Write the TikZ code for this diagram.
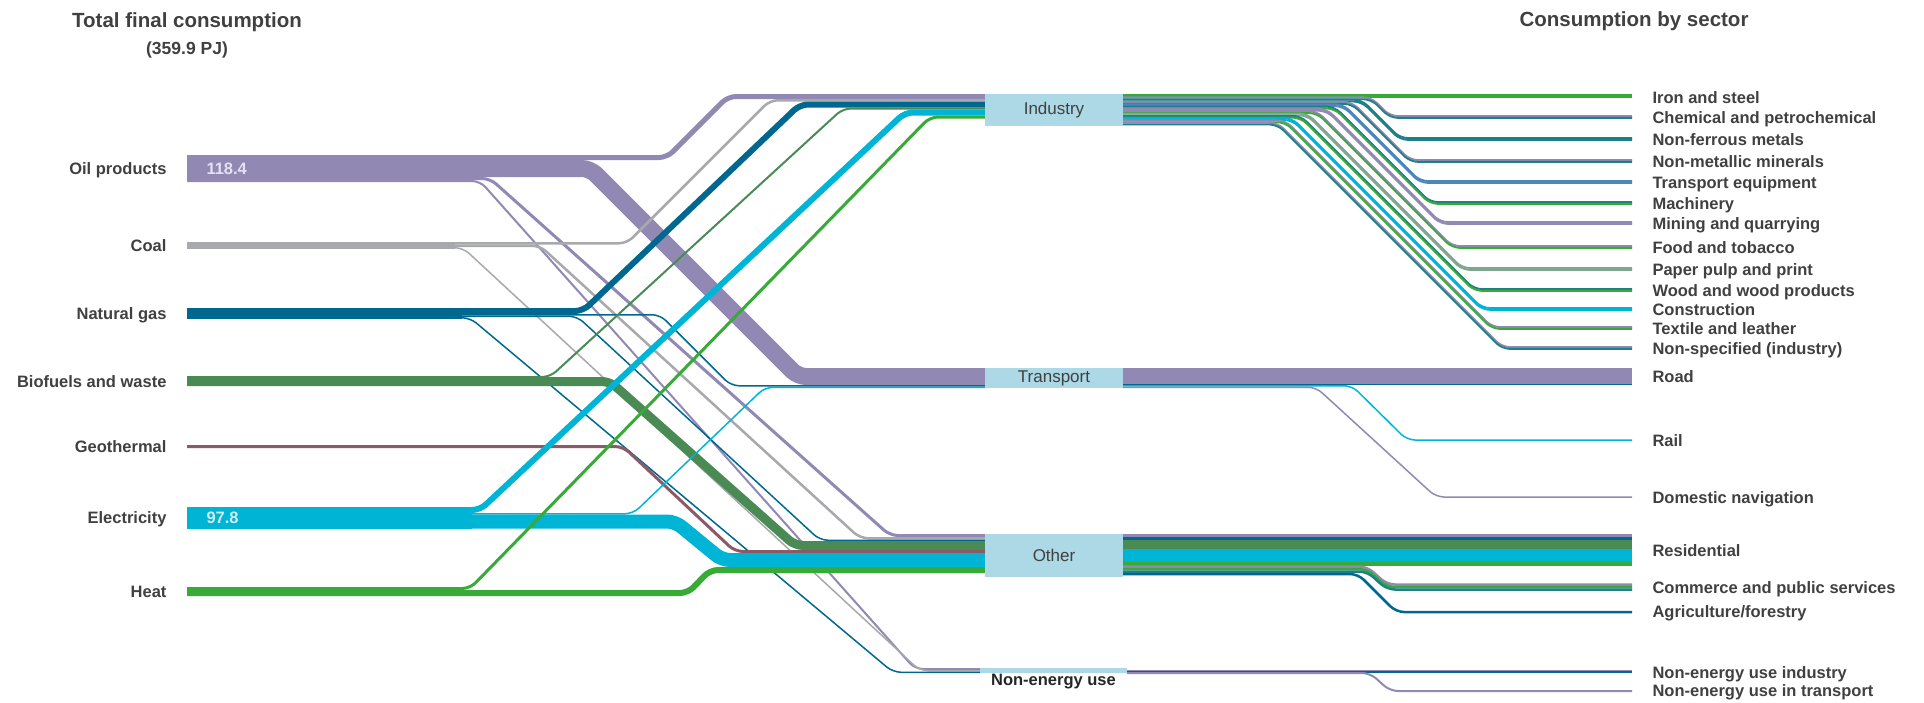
\documentclass[tikz,border=0pt]{standalone}
\usepackage{fontspec}
\setmainfont{Liberation Sans}
\usetikzlibrary{positioning}

\definecolor{oil}{RGB}{145,137,180}
\definecolor{coal}{RGB}{168,169,172}
\definecolor{gas}{RGB}{0,104,143}
\definecolor{bio}{RGB}{74,138,85}
\definecolor{geo}{RGB}{139,90,103}
\definecolor{elec}{RGB}{0,180,213}
\definecolor{heat}{RGB}{55,170,55}
\definecolor{indteal}{RGB}{30,128,134}
\definecolor{steel}{RGB}{76,135,185}
\definecolor{paper}{RGB}{128,165,145}
\definecolor{boxblue}{RGB}{173,216,230}
\definecolor{txtgray}{RGB}{64,64,64}

% band: colour, width, x0, y0, bend start, bend end, y1, x1
\newcommand\band[8]{\draw[flowband, #1, line width=#2pt] (#3,#4) -- (#5,#4) -- (#6,#7) -- (#8,#7);}

\begin{document}
\begin{tikzpicture}[x=1pt, y=-1pt,
    flowband/.style = {rounded corners=8pt},
    sectorbox/.style = {fill=boxblue, inner sep=0pt, text=txtgray, font=\fontsize{17}{18}\selectfont},
    fuellabel/.style = {anchor=east, text=txtgray, text height=12pt, text depth=0pt, font=\fontsize{16.5}{18}\selectfont\bfseries},
    uselabel/.style = {anchor=west, text=txtgray, text height=12pt, text depth=0pt, font=\fontsize{16.5}{18}\selectfont\bfseries},
    valuelabel/.style = {anchor=west, text height=12pt, text depth=0pt, font=\fontsize{16.5}{18}\selectfont\bfseries},
    headlabel/.style = {text=txtgray, font=\fontsize{20.5}{22}\selectfont\bfseries}]

    \fill[white] (0,0) rectangle (1924,702);
    \useasboundingbox (0,0) rectangle (1924,702);

    % fuel bars
    \fill[oil] (187,155) rectangle (472,182);
    \fill[coal] (187,242) rectangle (455,248.5);
    \fill[gas] (187,308) rectangle (462,318.5);
    \fill[bio] (187,376) rectangle (542,386);
    \fill[elec] (187,507) rectangle (472,528.5);
    \fill[heat] (187,587) rectangle (462,596);

    % fuels to sectors
    \band{oil}{5}{187}{157.5}{667}{728}{96.5}{985}
    \band{oil}{17}{187}{168.5}{590}{798}{376.5}{985}
    \band{oil}{3}{187}{178.5}{490}{890}{535.5}{985}
    \band{oil}{2}{187}{181}{480}{915}{669}{980}

    \band{coal}{2.5}{187}{243.25}{627}{770}{100.25}{985}
    \band{coal}{2.5}{187}{245.75}{540}{860}{538.25}{985}
    \band{coal}{1.5}{187}{247.75}{463}{920}{670.75}{980}

    \band{gas}{6}{187}{311}{583}{800}{104.5}{985}
    \band{gas}{1.5}{187}{314.75}{660}{731}{385.75}{985}
    \band{gas}{1.5}{187}{316.25}{577}{820}{540.25}{985}
    \band{gas}{1.5}{187}{317.75}{470}{893}{672.25}{980}

    \band{bio}{2}{187}{377}{550}{843}{108.5}{985}
    \band{bio}{9}{187}{381.5}{610}{795}{545.5}{985}

    \band{geo}{3}{187}{446.5}{623}{735}{551.5}{985}

    \band{elec}{6}{187}{510}{480}{905}{112.5}{985}
    \band{elec}{1.5}{187}{513.75}{633}{765}{387.25}{985}
    \band{elec}{14}{187}{521.5}{675}{722}{560}{985}

    \band{heat}{3}{187}{588.5}{470}{930}{117}{985}
    \band{heat}{6}{187}{593}{688}{710}{570}{985}

    % industry to branches
    \draw[heat, line width=3.5pt] (1123,96) -- (1632,96);
    \foreach \i/\yt/\b/\ca/\cb in {1/117/1390/oil/indteal, 2/139/1400/indteal/indteal,
        3/161/1410/oil/indteal, 4/182/1420/steel/steel, 5/203/1430/indteal/heat,
        6/223/1440/oil/oil, 7/247/1452/oil/heat, 8/269/1462/paper/paper,
        9/290/1474/indteal/heat, 10/309/1482/elec/elec, 11/328/1492/oil/heat,
        12/348/1502/oil/indteal}{
        \pgfmathsetmacro\ys{96+2.3*\i}
        \pgfmathsetmacro\a{\b-\yt+\ys}
        \band{\ca}{1.9}{1123}{\ys-0.9}{\a}{\b}{\yt-0.9}{1632}
        \band{\cb}{1.9}{1123}{\ys+0.9}{\a}{\b}{\yt+0.9}{1632}
    }

    % transport to modes
    \draw[oil, line width=15.5pt] (1123,375.75) -- (1632,375.75);
    \draw[gas, line width=1.5pt] (1123,384.25) -- (1632,384.25);
    \band{elec}{1.5}{1123}{385.75}{1352}{1407}{440}{1632}
    \band{oil}{1.5}{1123}{387.25}{1316}{1436}{497}{1632}

    % other to uses
    \foreach \yc/\w/\c in {535.5/3/oil, 538.5/3/gas, 544.5/9/bio, 555.5/13/elec, 564/4/heat}
        \draw[\c, line width=\w pt] (1123,\yc) -- (1632,\yc);
    \foreach \ys/\w/\c in {566.5/2.5/oil, 569/2.5/heat, 571.5/2.5/indteal}{
        \band{\c}{\w}{1123}{\ys}{1367}{1387}{\ys+18}{1632}
    }
    \band{gas}{2.5}{1123}{574}{1358}{1396}{612}{1632}

    % non-energy use
    \draw[oil, line width=1.5pt] (1127,670.25) -- (1632,670.25);
    \draw[gas, line width=1.5pt] (1127,671.75) -- (1632,671.75);
    \band{oil}{2}{1127}{673}{1370}{1390}{691}{1632}

    % sectors
    \node[sectorbox, minimum width=138pt, minimum height=32pt] (industry) at (1054,110) {Industry};
    \node[sectorbox, minimum width=138pt, minimum height=20pt] (transport) at (1054,378) {Transport};
    \node[sectorbox, minimum width=138pt, minimum height=43pt] (other) at (1054,555.5) {Other};
    \node[sectorbox, minimum width=147pt, minimum height=5pt] (nonenergy) at (1053.5,670.5) {};
    \node[below=-3pt of nonenergy, text=black!85, font=\fontsize{16.5}{18}\selectfont\bfseries] (nonenergylabel) {Non-energy use};

    % fuels
    \node[fuellabel] (oillabel) at (170,168) {Oil products};
    \node[fuellabel] (coallabel) at (170,245) {Coal};
    \node[fuellabel] (gaslabel) at (170,313) {Natural gas};
    \node[fuellabel] (biolabel) at (170,381) {Biofuels and waste};
    \node[fuellabel] (geolabel) at (170,446) {Geothermal};
    \node[fuellabel] (eleclabel) at (170,517) {Electricity};
    \node[fuellabel] (heatlabel) at (170,591) {Heat};
    \node[valuelabel, text={rgb,255:red,228;green,225;blue,242}] (oilvalue) at (203,168) {118.4};
    \node[valuelabel, text={rgb,255:red,205;green,239;blue,247}] (elecvalue) at (203,517) {97.8};

    % branches
    \foreach \y/\name/\txt in {97/iron/Iron and steel, 117/chem/Chemical and petrochemical,
        139/nonferrous/Non-ferrous metals, 161/nonmetallic/Non-metallic minerals,
        182/transeq/Transport equipment, 203/machinery/Machinery,
        223/mining/Mining and quarrying, 247/food/Food and tobacco,
        269/paper/Paper pulp and print, 290/wood/Wood and wood products,
        309/construction/Construction, 328/textile/Textile and leather,
        348/nonspec/Non-specified (industry), 376/road/Road, 440/rail/Rail,
        497/navigation/Domestic navigation, 550/residential/Residential,
        587/commerce/Commerce and public services, 611/agriculture/{Agriculture/forestry},
        672/neindustry/Non-energy use industry, 690/netransport/Non-energy use in transport}
        \node[uselabel] (\name) at (1649,\y) {\txt};

    % headings
    \node[headlabel] (total) at (187,22) {Total final consumption};
    \node[below=3pt of total, text=txtgray, font=\fontsize{17.5}{19}\selectfont\bfseries] (pj) {(359.9 PJ)};
    \node[headlabel] (bysector) at (1634,21) {Consumption by sector};
\end{tikzpicture}
\end{document}
